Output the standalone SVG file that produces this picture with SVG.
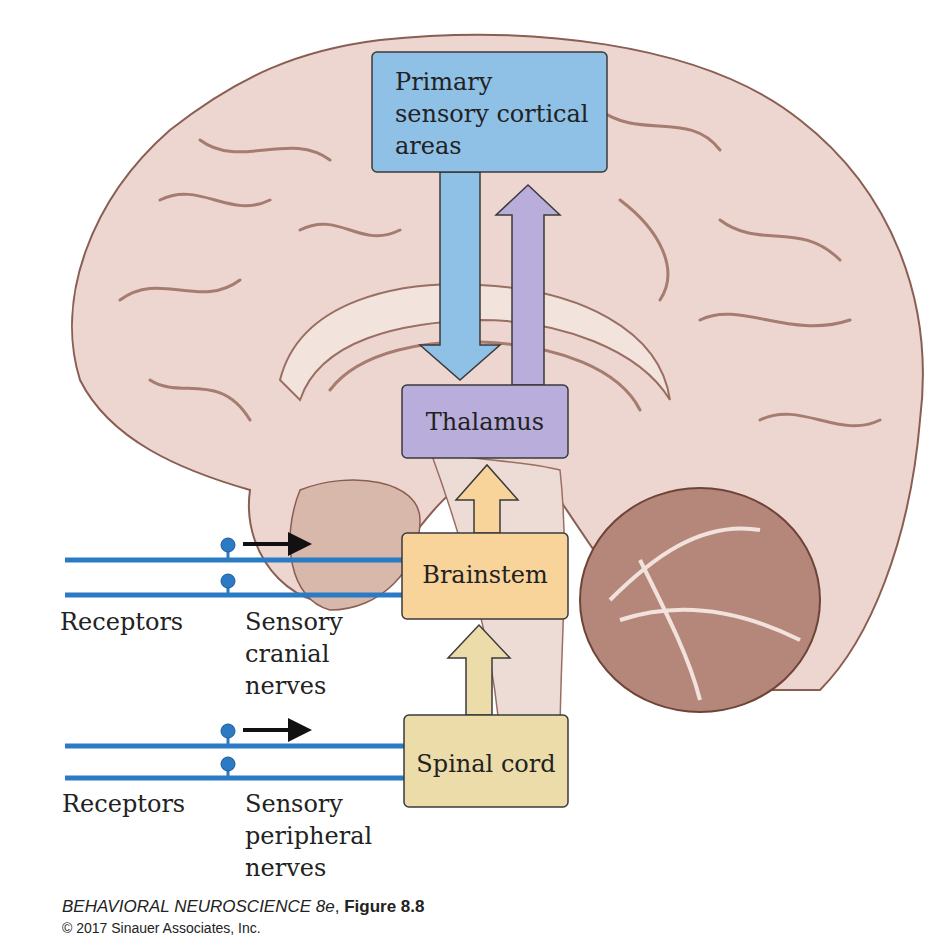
<svg xmlns="http://www.w3.org/2000/svg" width="940" height="946" viewBox="0 0 940 946">
<defs>
<style>
.lbl{font-family:"DejaVu Serif","Liberation Serif",serif;font-size:24px;fill:#222}
.box{stroke:#3a3a3a;stroke-width:1.5}
.nerve{stroke:#2b7bc4;stroke-width:5}
.bulb{fill:#2b7bc4;stroke:#1d5a94;stroke-width:1}
.gyr{fill:none;stroke:#a77c70;stroke-width:3;stroke-linecap:round}
</style>
<marker id="ah" markerWidth="6" markerHeight="6" refX="5" refY="3" orient="auto"><path d="M0,0 L6,3 L0,6 z" fill="#111"/></marker>
</defs>
<rect width="940" height="946" fill="#fff"/>
<g id="brain">
<path d="M380,40 C520,25 700,40 800,120 C890,190 935,300 920,420 C910,540 870,640 820,690 L700,690 C640,620 600,560 560,500 L480,470 C430,500 400,560 360,600 C300,620 240,560 250,490 C180,470 110,440 80,380 C55,300 90,200 170,130 C240,75 300,50 380,40 Z" fill="#ecd6cf" stroke="#8a5e52" stroke-width="2"/>
<path d="M300,490 C350,470 420,480 420,520 C420,570 380,610 330,610 C290,600 280,540 300,490 Z" fill="#d9b8ac" stroke="#8a5e52" stroke-width="1.5"/>
<path d="M280,380 C300,300 400,280 480,285 C580,290 660,330 670,400 C640,350 560,320 480,320 C400,322 320,340 300,400 Z" fill="#f3e3dd" stroke="#9a6e62" stroke-width="2"/>
<path d="M330,390 C360,350 430,340 480,342 C560,345 620,370 640,410" class="gyr"/>
<path d="M430,450 C460,460 520,460 560,470 C570,560 560,650 560,740 L500,740 C495,660 470,560 430,450 Z" fill="#eddcd6" stroke="#9a6e62" stroke-width="1.5"/>
<ellipse cx="700" cy="600" rx="120" ry="112" fill="#b5877a" stroke="#6e4438" stroke-width="2"/>
<path d="M610,600 C650,560 700,520 760,530 M620,620 C680,600 740,610 800,640 M640,560 C670,620 690,660 700,700" fill="none" stroke="#f2e2dc" stroke-width="4"/>
<path d="M160,200 C200,180 230,220 270,200 M120,300 C160,270 200,310 240,280 M200,140 C240,170 290,130 330,160 M600,110 C640,140 690,110 720,150 M720,220 C760,250 800,220 840,260 M700,320 C740,300 790,340 850,320 M620,200 C660,230 680,270 660,300 M300,230 C340,210 360,250 400,230 M760,420 C800,400 840,440 880,420 M150,380 C180,400 220,370 250,420" class="gyr"/>
</g>
<g id="connectors">
<path d="M440,172 V345 H420 L460,380 L500,345 H480 V172 Z" fill="#8fc0e6" stroke="#3a3a3a" stroke-width="1.5"/>
<path d="M512,385 V215 H496 L528,185 L560,215 H544 V385 Z" fill="#b9aedb" stroke="#3a3a3a" stroke-width="1.5"/>
<path d="M474,533 V500 H456 L487,465 L518,500 H500 V533 Z" fill="#f8d49a" stroke="#3a3a3a" stroke-width="1.5"/>
<path d="M466,715 V658 H448 L479,625 L510,658 H492 V715 Z" fill="#ecdcaa" stroke="#3a3a3a" stroke-width="1.5"/>
<line x1="65" y1="560" x2="402" y2="560" class="nerve"/>
<line x1="65" y1="595" x2="402" y2="595" class="nerve"/>
<line x1="65" y1="746" x2="404" y2="746" class="nerve"/>
<line x1="65" y1="778" x2="404" y2="778" class="nerve"/>
<path d="M228,552 V560 M228,587 V595 M228,738 V746 M228,770 V778" stroke="#2b7bc4" stroke-width="3"/>
<circle cx="228" cy="545" r="7" class="bulb"/>
<circle cx="228" cy="581" r="7" class="bulb"/>
<circle cx="228" cy="731" r="7" class="bulb"/>
<circle cx="228" cy="764" r="7" class="bulb"/>
<line x1="243" y1="544" x2="308" y2="544" stroke="#111" stroke-width="4" marker-end="url(#ah)"/>
<line x1="243" y1="730" x2="308" y2="730" stroke="#111" stroke-width="4" marker-end="url(#ah)"/>
</g>
<g id="primary"><rect x="372" y="52" width="235" height="120" rx="5" fill="#8fc0e6" class="box"/>
<text class="lbl" x="395" y="90">Primary</text><text class="lbl" x="395" y="122">sensory cortical</text><text class="lbl" x="395" y="154">areas</text></g>
<g id="thalamus"><rect x="402" y="385" width="166" height="73" rx="5" fill="#b9aedb" class="box"/><text class="lbl" x="485" y="430" text-anchor="middle">Thalamus</text></g>
<g id="brainstem"><rect x="402" y="533" width="166" height="86" rx="5" fill="#f8d49a" class="box"/><text class="lbl" x="485" y="583" text-anchor="middle">Brainstem</text></g>
<g id="spinal"><rect x="404" y="715" width="164" height="92" rx="5" fill="#ecdcaa" class="box"/><text class="lbl" x="486" y="772" text-anchor="middle">Spinal cord</text></g>
<g id="labels">
<text class="lbl" x="60" y="630">Receptors</text>
<text class="lbl" x="245" y="630">Sensory</text><text class="lbl" x="245" y="662">cranial</text><text class="lbl" x="245" y="694">nerves</text>
<text class="lbl" x="62" y="812">Receptors</text>
<text class="lbl" x="245" y="812">Sensory</text><text class="lbl" x="245" y="844">peripheral</text><text class="lbl" x="245" y="876">nerves</text>
<text x="62" y="912" font-family="'Liberation Sans Narrow','Liberation Sans',sans-serif" font-size="17" fill="#222"><tspan font-style="italic">BEHAVIORAL NEUROSCIENCE 8e</tspan>, <tspan font-weight="bold">Figure 8.8</tspan></text>
<text x="62" y="933" font-family="'Liberation Sans Narrow','Liberation Sans',sans-serif" font-size="14" fill="#222">© 2017 Sinauer Associates, Inc.</text>
</g>
</svg>
